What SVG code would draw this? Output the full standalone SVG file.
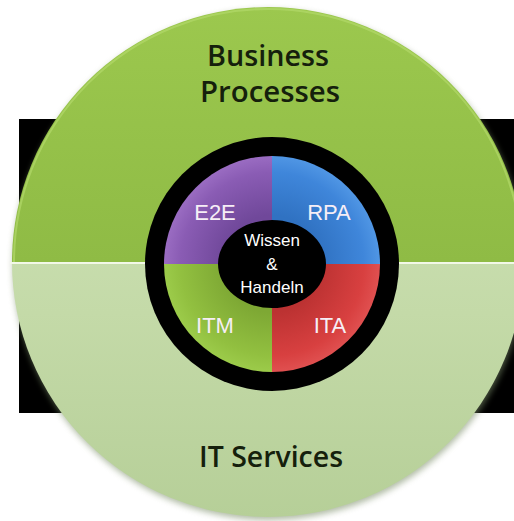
<svg xmlns="http://www.w3.org/2000/svg" width="514" height="521" viewBox="0 0 514 521">
<defs>
<linearGradient id="gTop" x1="0" y1="0" x2="0" y2="1">
<stop offset="0" stop-color="#9cc84e"/>
<stop offset="0.5" stop-color="#8fbb45"/>
<stop offset="1" stop-color="#7a9f36"/>
</linearGradient>
<linearGradient id="gBot" x1="0" y1="0" x2="0" y2="1">
<stop offset="0" stop-color="#d4e7c0"/>
<stop offset="0.6" stop-color="#c4daa8"/>
<stop offset="1" stop-color="#b6cf98"/>
</linearGradient>
<radialGradient id="gPur" cx="272" cy="264" r="108" gradientUnits="userSpaceOnUse">
<stop offset="0.45" stop-color="#70489a"/>
<stop offset="0.85" stop-color="#8a5cb4"/>
<stop offset="1" stop-color="#9a6cc2"/>
</radialGradient>
<radialGradient id="gBlu" cx="272" cy="264" r="108" gradientUnits="userSpaceOnUse">
<stop offset="0.45" stop-color="#3072c2"/>
<stop offset="0.85" stop-color="#3f86da"/>
<stop offset="1" stop-color="#5096e4"/>
</radialGradient>
<radialGradient id="gRed" cx="272" cy="264" r="108" gradientUnits="userSpaceOnUse">
<stop offset="0.45" stop-color="#bc3232"/>
<stop offset="0.85" stop-color="#d84040"/>
<stop offset="1" stop-color="#e05050"/>
</radialGradient>
<radialGradient id="gGrn" cx="272" cy="264" r="108" gradientUnits="userSpaceOnUse">
<stop offset="0.45" stop-color="#7ea834"/>
<stop offset="0.85" stop-color="#92c040"/>
<stop offset="1" stop-color="#9ccb4a"/>
</radialGradient>
<clipPath id="cTop"><rect x="0" y="0" width="514" height="262"/></clipPath>
<clipPath id="cBot"><rect x="0" y="262" width="514" height="259"/></clipPath>
<filter id="shadow" x="-10%" y="-10%" width="120%" height="120%">
<feGaussianBlur stdDeviation="3"/>
</filter>
</defs>
<style>
.big{font-family:"Open Sans","Liberation Sans",sans-serif;font-weight:600;font-size:28px;fill:#15200c;text-anchor:middle}
.seg{font-family:"Liberation Sans",Arial,sans-serif;font-size:22px;fill:#f6eef6;text-anchor:middle}
.ctr{font-family:"Liberation Sans",Arial,sans-serif;font-size:17px;fill:#ffffff;text-anchor:middle}
</style>
<rect width="514" height="521" fill="#ffffff"/>
<rect id="band" x="19" y="119" width="495" height="294" fill="#000000"/>
<g id="outer">
<ellipse cx="269" cy="265" rx="256" ry="255" fill="#7d8f6a" opacity="0.6" filter="url(#shadow)"/>
<ellipse cx="268" cy="262" rx="256" ry="255" fill="url(#gTop)" clip-path="url(#cTop)"/>
<ellipse cx="268" cy="262" rx="256" ry="255" fill="url(#gBot)" clip-path="url(#cBot)"/>
<ellipse cx="268" cy="262" rx="254" ry="253" fill="none" stroke="#b2d86a" stroke-width="2" clip-path="url(#cTop)" opacity="0.7"/>
<rect x="10" y="262" width="510" height="2" fill="#f2f8e8"/>
</g>
<g id="labels-outer">
<text class="big" x="268" y="66" textLength="122" lengthAdjust="spacingAndGlyphs">Business</text>
<text class="big" x="270" y="102" textLength="140" lengthAdjust="spacingAndGlyphs">Processes</text>
<text class="big" x="271" y="467" textLength="144" lengthAdjust="spacingAndGlyphs">IT Services</text>
</g>
<circle id="ring" cx="272" cy="264" r="127" fill="#000000"/>
<g id="segments">
<g id="e2e">
<path d="M272,264 L272,156 A108,108 0 0 0 164,264 Z" fill="url(#gPur)"/>
<text class="seg" x="215" y="220">E2E</text>
</g>
<g id="rpa">
<path d="M272,264 L380,264 A108,108 0 0 0 272,156 Z" fill="url(#gBlu)"/>
<text class="seg" x="329" y="220">RPA</text>
</g>
<g id="ita">
<path d="M272,264 L272,372 A108,108 0 0 0 380,264 Z" fill="url(#gRed)"/>
<text class="seg" x="330" y="333">ITA</text>
</g>
<g id="itm">
<path d="M272,264 L164,264 A108,108 0 0 0 272,372 Z" fill="url(#gGrn)"/>
<text class="seg" x="215" y="333">ITM</text>
</g>
</g>
<g id="center">
<ellipse cx="272" cy="264" rx="54" ry="44" fill="#000000"/>
<text class="ctr" x="272" y="246">Wissen</text>
<text class="ctr" x="272" y="270">&amp;</text>
<text class="ctr" x="272" y="293">Handeln</text>
</g>
<g id="connectors"/>
</svg>
